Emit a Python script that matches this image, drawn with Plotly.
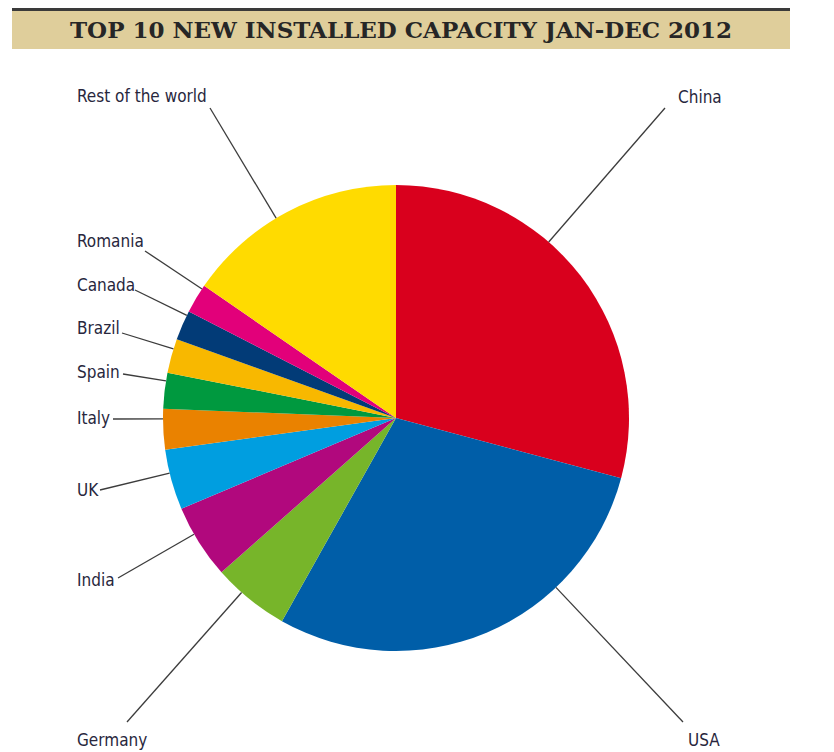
import math
import plotly.graph_objects as go

# ---- data (new installed capacity, MW) ----
countries = ["China", "USA", "Germany", "India", "UK", "Italy", "Spain",
             "Brazil", "Canada", "Romania", "Rest of the world"]
capacity_mw = [13200, 13124, 2415, 2336, 1897, 1273, 1122, 1077, 935, 923, 6973]
colors = ["#D9001D", "#005EA8", "#77B52A", "#B1087D", "#009EE0", "#EA8200",
          "#00993F", "#F8B800", "#023B77", "#E2007A", "#FFDB00"]

title_text = "TOP 10 NEW INSTALLED CAPACITY JAN-DEC 2012"

# ---- layout helpers (pixel geometry of the page) ----
W, H = 834, 752
CX, CY, R = 396, 418, 233          # pie centre / radius in pixels

# label text anchor (px)
label_pos = {
    "China": (676, 97),
    "USA": (686, 740),
    "Germany": (75, 740),
    "India": (75, 580),
    "UK": (75, 490),
    "Italy": (75, 418),
    "Spain": (75, 372),
    "Brazil": (75, 328),
    "Canada": (75, 285),
    "Romania": (75, 241),
    "Rest of the world": (75, 96),
}
# end of leader line near the label (px)
line_end = {
    "China": (665, 108),
    "USA": (683, 722),
    "Germany": (127, 722),
    "India": (118, 578),
    "UK": (100, 490),
    "Italy": (113, 419),
    "Spain": (123, 374),
    "Brazil": (122, 333),
    "Canada": (135, 290),
    "Romania": (145, 251),
    "Rest of the world": (210, 108),
}


def px(x, y):
    return x / W, 1 - y / H


fig = go.Figure()
fig.add_trace(go.Pie(
    labels=countries,
    values=capacity_mw,
    marker=dict(colors=colors, line=dict(width=0)),
    sort=False,
    direction="clockwise",
    rotation=0,
    textinfo="none",
    hoverinfo="label+value+percent",
    showlegend=False,
    domain=dict(x=[(CX - R) / W, (CX + R) / W],
                y=[(H - CY - R) / H, (H - CY + R) / H]),
))

shapes = []
annotations = []

# title band
x0, y0 = px(12, 49)
x1, y1 = px(790, 10)
shapes.append(dict(type="rect", xref="paper", yref="paper", x0=x0, y0=y0, x1=x1, y1=y1,
                   fillcolor="#DFCE9B", line=dict(width=0), layer="below"))
a0, b0 = px(12, 11)
a1, b1 = px(790, 8)
shapes.append(dict(type="rect", xref="paper", yref="paper", x0=a0, y0=b0, x1=a1, y1=b1,
                   fillcolor="#3a3a3a", line=dict(width=0)))
tx, ty = px(401, 29)
annotations.append(dict(text="<b>" + title_text + "</b>", x=tx, y=ty, xref="paper", yref="paper",
                        showarrow=False, xanchor="center", yanchor="middle",
                        font=dict(family="DejaVu Serif, serif", size=23, color="#262626")))

# leader lines (radial from pie edge toward label) and labels
for name in countries:
    ex, ey = line_end[name]
    ang = math.atan2(ey - CY, ex - CX)
    sx, sy = CX + R * math.cos(ang), CY + R * math.sin(ang)
    p0 = px(sx, sy)
    p1 = px(ex, ey)
    shapes.append(dict(type="line", xref="paper", yref="paper",
                       x0=p0[0], y0=p0[1], x1=p1[0], y1=p1[1],
                       line=dict(color="#3c3c3c", width=1.3)))
    lx, ly = label_pos[name]
    qx, qy = px(lx, ly)
    annotations.append(dict(text=name, x=qx, y=qy, xref="paper", yref="paper",
                            showarrow=False, xanchor="left", yanchor="middle",
                            font=dict(family="DejaVu Sans Condensed, sans-serif",
                                      size=17, color="#28273d")))

fig.update_layout(
    width=W, height=H,
    margin=dict(l=0, r=0, t=0, b=0),
    paper_bgcolor="white",
    plot_bgcolor="white",
    shapes=shapes,
    annotations=annotations,
)

fig.write_html("out.html",
               config={"displayModeBar": False},
               post_script="document.body.style.margin='0';document.body.style.overflow='hidden';")
